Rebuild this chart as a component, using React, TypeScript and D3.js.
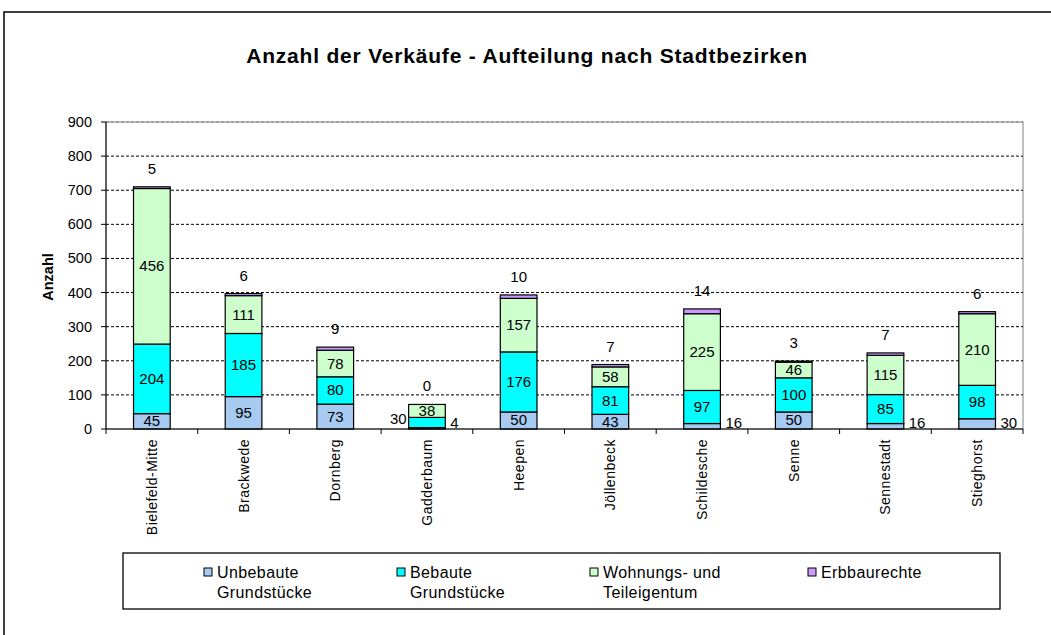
import React from 'react';
import * as d3 from 'd3';

const districts = ['Bielefeld-Mitte', 'Brackwede', 'Dornberg', 'Gadderbaum', 'Heepen', 'Jöllenbeck', 'Schildesche', 'Senne', 'Sennestadt', 'Stieghorst'];
const unbebaute = [45, 95, 73, 4, 50, 43, 16, 50, 16, 30];
const bebaute = [204, 185, 80, 30, 176, 81, 97, 100, 85, 98];
const wohnungseigentum = [456, 111, 78, 38, 157, 58, 225, 46, 115, 210];
const erbbaurechte = [5, 6, 9, 0, 10, 7, 14, 3, 7, 6];
const yTicks = [0, 100, 200, 300, 400, 500, 600, 700, 800, 900];

const seriesKeys = ['unbebaute', 'bebaute', 'wohnung', 'erbbau'];
const seriesLabels = [['Unbebaute', 'Grundstücke'], ['Bebaute', 'Grundstücke'], ['Wohnungs- und', 'Teileigentum'], ['Erbbaurechte']];
const seriesColors = ['#a6caf0', '#00ffff', '#ccffcc', '#cc99ff'];

const W = 1051, H = 635;
const FONT = '"Liberation Sans", Arial, sans-serif';

export default function App() {
  const rows = districts.map((d, i) => ({
    district: d,
    unbebaute: unbebaute[i],
    bebaute: bebaute[i],
    wohnung: wohnungseigentum[i],
    erbbau: erbbaurechte[i],
  }));

  const x = d3.scaleBand().domain(districts).range([106, 1023]);
  const y = d3.scaleLinear().domain([0, 900]).range([429, 122]);
  const barW = x.bandwidth() * 0.4;
  const stacked = d3.stack<any>().keys(seriesKeys)(rows);
  const legendX = [204, 397, 590, 808];

  return (
    <svg width={W} height={H} style={{ position: 'absolute', left: 0, top: 0, fontFamily: FONT }}>
      <rect x={0} y={0} width={W} height={H} fill="#fff" />
      {/* outer frame */}
      <rect x={4} y={12} width={1200} height={800} fill="none" stroke="#000" strokeWidth={1.5} />

      <text x={527} y={63} textAnchor="middle" fontSize={21} fontWeight="bold" letterSpacing={0.8}>
        Anzahl der Verkäufe - Aufteilung nach Stadtbezirken
      </text>

      {/* plot area border */}
      <rect x={106} y={y(900)} width={1023 - 106} height={y(0) - y(900)} fill="none" stroke="#808080" strokeWidth={1} />

      {/* gridlines */}
      {yTicks.filter(t => t > 0).map(t => (
        <line key={t} x1={106} x2={1023} y1={y(t)} y2={y(t)} stroke={t === 900 ? '#808080' : '#000'} strokeWidth={1} strokeDasharray="3,2" />
      ))}

      {/* y axis */}
      <line x1={106} x2={106} y1={y(900)} y2={y(0)} stroke="#000" />
      {yTicks.map(t => (
        <g key={t}>
          <line x1={101} x2={106} y1={y(t)} y2={y(t)} stroke="#000" />
          <text x={92} y={y(t) + 5} textAnchor="end" fontSize={14.5}>{t}</text>
        </g>
      ))}
      <text transform={`translate(53,277) rotate(-90)`} textAnchor="middle" fontSize={14.5} fontWeight="bold">Anzahl</text>

      {/* bars */}
      {stacked.map((s, si) => (
        <g key={s.key}>
          {s.map((d, i) => {
            const cx = (x(districts[i]) as number) + x.bandwidth() / 2;
            const y1 = y(d[1]), y0 = y(d[0]);
            return (
              <rect key={i} x={cx - barW / 2} y={y1} width={barW} height={Math.max(0, y0 - y1)}
                fill={seriesColors[si]} stroke="#000" strokeWidth={1.2} />
            );
          })}
        </g>
      ))}

      {/* data labels */}
      {stacked.map((s, si) => (
        <g key={'l' + s.key}>
          {s.map((d, i) => {
            const v = d[1] - d[0];
            const cx = (x(districts[i]) as number) + x.bandwidth() / 2;
            const mid = (y(d[0]) + y(d[1])) / 2;
            if (s.key === 'erbbau') {
              return <text key={i} x={cx} y={y(d[1]) - 13} textAnchor="middle" fontSize={15}>{v}</text>;
            }
            if (v >= 35) {
              return <text key={i} x={cx} y={mid + 5} textAnchor="middle" fontSize={15}>{v}</text>;
            }
            if (s.key === 'unbebaute') {
              return <text key={i} x={cx + barW / 2 + 5} y={Math.min(mid, y(0) - 6) + 5} fontSize={15}>{v}</text>;
            }
            return <text key={i} x={cx - barW / 2 - 2} y={mid + 1} textAnchor="end" fontSize={15}>{v}</text>;
          })}
        </g>
      ))}

      {/* x axis */}
      <line x1={106} x2={1023} y1={y(0)} y2={y(0)} stroke="#000" strokeWidth={1.2} />
      {districts.map((d, i) => (
        <line key={'t' + i} x1={x(d)} x2={x(d)} y1={y(0)} y2={y(0) + 5} stroke="#000" />
      ))}
      <line x1={1023} x2={1023} y1={y(0)} y2={y(0) + 5} stroke="#000" />
      {districts.map(d => {
        const cx = (x(d) as number) + x.bandwidth() / 2;
        return (
          <text key={'c' + d} transform={`translate(${cx + 5},439) rotate(-90)`} textAnchor="end" fontSize={14} letterSpacing={0.5}>{d}</text>
        );
      })}

      {/* legend */}
      <rect x={123} y={553} width={877} height={56} fill="#fff" stroke="#000" strokeWidth={1.3} />
      {seriesLabels.map((lines, i) => (
        <g key={'lg' + i}>
          <rect x={legendX[i]} y={568} width={8} height={8} fill={seriesColors[i]} stroke="#000" strokeWidth={1} />
          {lines.map((ln, j) => (
            <text key={j} x={legendX[i] + 13} y={578 + j * 20} fontSize={16} letterSpacing={0.4}>{ln}</text>
          ))}
        </g>
      ))}
    </svg>
  );
}
